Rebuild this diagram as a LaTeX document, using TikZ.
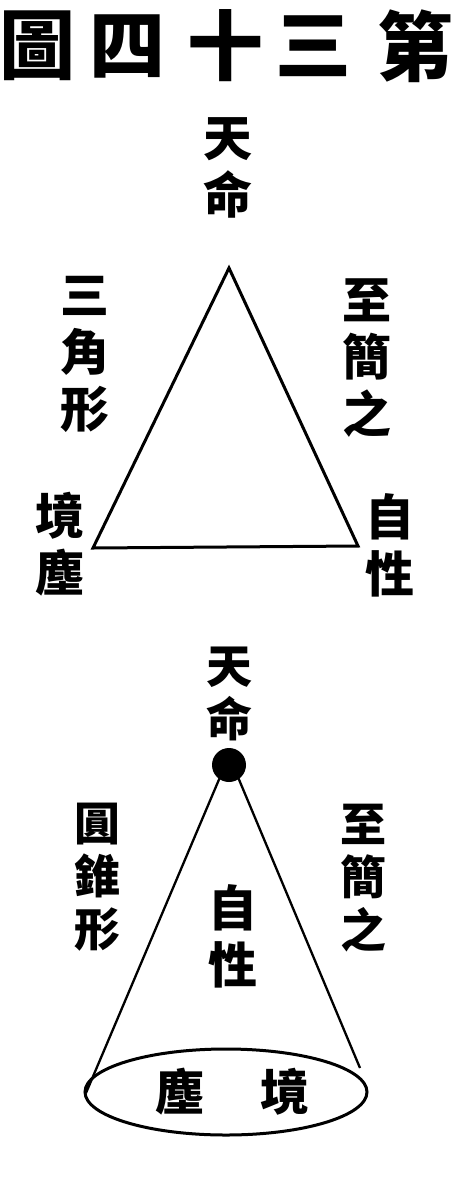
\documentclass[tikz,border=0pt]{standalone}
\usepackage{fontspec}
\newfontfamily\cjk{Noto Sans CJK TC}
\tikzset{
  vlabel/.style={inner sep=0pt,align=center,font=\cjk\bfseries\fontsize{49}{57}\selectfont},
  vlabelsmall/.style={vlabel,font=\cjk\bfseries\fontsize{46}{53}\selectfont},
  titlechar/.style={inner sep=0pt,font=\cjk\bfseries\fontsize{76}{76}\selectfont}
}
\begin{document}
\begin{tikzpicture}[x=1pt,y=-1pt]
  \useasboundingbox[fill=white] (0,0) rectangle (460,1203);
  % title
  \foreach \c/\x in {圖/37,四/127,十/225,三/313,第/415}
    \node[titlechar] (title-\x) at (\x,46) {\c};
  % triangle
  \coordinate (apex) at (229,268);
  \coordinate (lowleft) at (93,548);
  \coordinate (lowright) at (358,546);
  \draw[line width=3pt,line join=miter] (apex) -- (lowleft) -- (lowright) -- cycle;
  \node[vlabel] (tmtop) at (228,168) {天\\命};
  \node[vlabel] (sanjiao) at (85,354) {三\\角\\形};
  \node[vlabel] (zhijian) at (367,358) {至\\簡\\之};
  \node[vlabel] (jingchen) at (60,544) {境\\塵};
  \node[vlabel] (zixing) at (390,545) {自\\性};
  % cone
  \node[vlabelsmall] (tmlow) at (229,694) {天\\命};
  \node[circle,fill,inner sep=0pt,minimum size=34pt] (tip) at (229,765) {};
  \coordinate (baseleft) at (86,1093);
  \coordinate (baseright) at (360,1068);
  \draw[line width=2.3pt] (tip.south west) ++(4,-2) -- (baseleft);
  \draw[line width=2.3pt] (tip.south east) ++(-4,-2) -- (baseright);
  \draw[line width=3pt] (226,1092) ellipse [x radius=141pt,y radius=43pt];
  \node[vlabelsmall] (yuanzhui) at (97,877) {圓\\錐\\形};
  \node[vlabelsmall] (zhijianlow) at (363,878) {至\\簡\\之};
  \node[vlabel] (zixinglow) at (233,936) {自\\性};
  \node[vlabel] (chen) at (180,1092) {塵};
  \node[vlabel] (jing) at (285,1092) {境};
\end{tikzpicture}
\end{document}
